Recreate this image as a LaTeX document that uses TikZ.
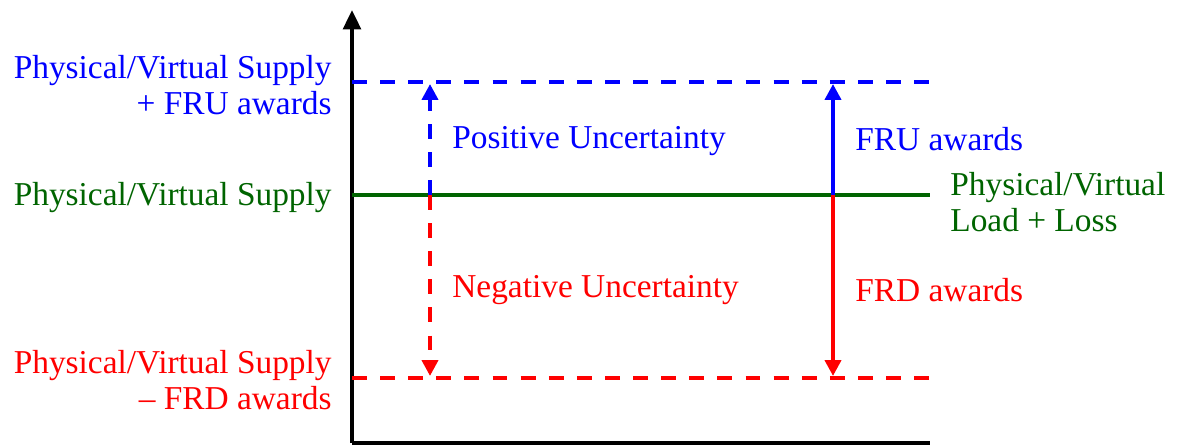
\documentclass[tikz,border=0pt]{standalone}
\usepackage{fontspec}
\setmainfont{Liberation Serif}
\usetikzlibrary{arrows.meta, positioning}

\definecolor{supgreen}{RGB}{0,100,0}

\begin{document}
\begin{tikzpicture}[
    x=0.02cm, y=-0.02cm,
    lbl/.style={inner sep=0pt, font=\fontsize{19}{20.5}\selectfont},
    lblL/.style={lbl, anchor=east, align=right},
    lblR/.style={lbl, anchor=west, align=left},
    level/.style={line width=2.2pt},
    dashlevel/.style={level, dash pattern=on 8.5pt off 7.5pt},
    flow/.style={-{Triangle[length=9pt, width=9pt]}, line width=2.2pt},
    dflow/.style={flow, dash pattern=on 8.5pt off 7.5pt}
]
\useasboundingbox (0,0) rectangle (1177,446);

% axes
\coordinate (orig) at (352,443);
\coordinate (ytop) at (352,10);
\coordinate (xend) at (930,443);
\draw[line width=2.2pt, -{Triangle[length=11pt, width=10pt]}] (orig) -- (ytop);
\draw[line width=2.2pt] (orig) -- (xend);

% levels
\coordinate (upL) at (352,82);
\coordinate (upR) at (930,82);
\coordinate (midL) at (352,195);
\coordinate (midR) at (930,195);
\coordinate (loL) at (352,378);
\coordinate (loR) at (930,378);
\draw[dashlevel, blue] (upL) -- (upR);
\draw[level, supgreen] (midL) -- (midR);
\draw[dashlevel, red] (loL) -- (loR);

% uncertainty and award arrows
\coordinate (uncMid) at (430,195);
\coordinate (uncUp) at (430,84);
\coordinate (uncLo) at (430,376);
\coordinate (awdMid) at (833,195);
\coordinate (awdUp) at (833,84);
\coordinate (awdLo) at (833,376);
\draw[dflow, blue] (uncMid) -- (uncUp);
\draw[dflow, red] (uncMid) -- (uncLo);
\draw[flow, blue] (awdMid) -- (awdUp);
\draw[flow, red] (awdMid) -- (awdLo);

% labels
\node[lblL, blue] (supUp) at (332,85) {Physical/Virtual Supply\\+ FRU awards};
\node[lblL, supgreen] (sup) at (332,198) {Physical/Virtual Supply};
\node[lblL, red] (supLo) at (332,380) {Physical/Virtual Supply\\– FRD awards};
\node[lblR, blue] (posUnc) at (452,141) {Positive Uncertainty};
\node[lblR, red] (negUnc) at (452,290) {Negative Uncertainty};
\node[lblR, blue] (fru) at (855,139) {FRU awards};
\node[lblR, red] (frd) at (855,290) {FRD awards};
\node[lblR, supgreen] (load) at (950,202) {Physical/Virtual\\Load + Loss};
\end{tikzpicture}
\end{document}
